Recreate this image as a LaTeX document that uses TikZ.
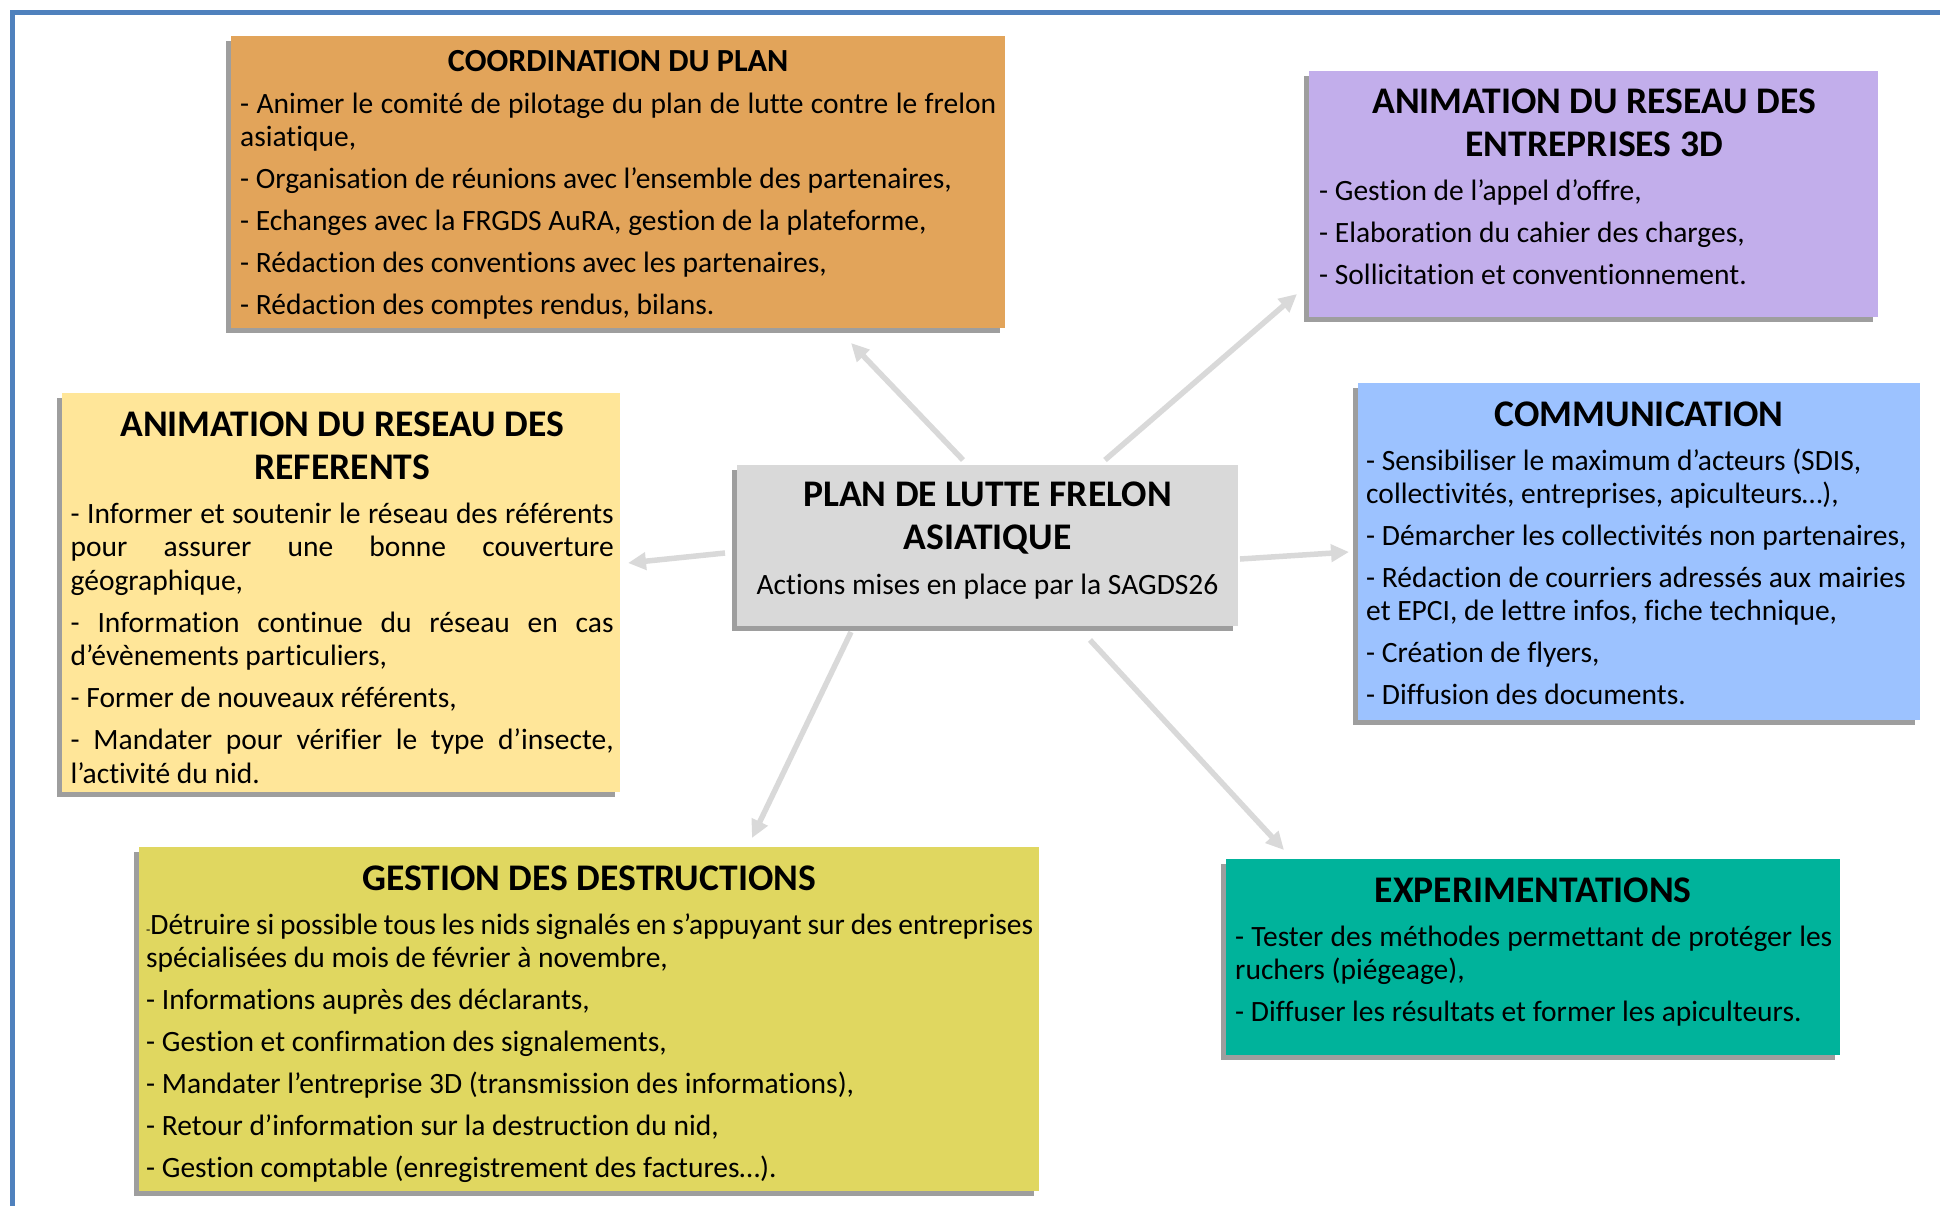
\documentclass[tikz,border=0pt]{standalone}
\usepackage{fontspec}
\setmainfont{Carlito}[Ligatures={NoCommon}]
\usetikzlibrary{calc,shadows,arrows.meta}
\definecolor{framecol}{HTML}{4F81BD}
\definecolor{shadowcol}{HTML}{9E9E9E}
\definecolor{arrowcol}{HTML}{D9D9D9}
\definecolor{coordcol}{HTML}{E2A45A}
\definecolor{entcol}{HTML}{C2AEEB}
\definecolor{commcol}{HTML}{9CC2FF}
\definecolor{refcol}{HTML}{FFE699}
\definecolor{centcol}{HTML}{D9D9D9}
\definecolor{destrcol}{HTML}{E0D760}
\definecolor{expcol}{HTML}{00B39B}
\newcommand\ttlfont{\fontsize{37.6}{43}\selectfont\bfseries}
\newcommand\smttlfont{\fontsize{32.2}{43}\selectfont\bfseries}
\newcommand\bodyfont{\fontsize{29.5}{33.4}\selectfont\mdseries}
\newcommand\jline[2]{\makebox[#1][s]{#2}}
\begin{document}
\begin{tikzpicture}[x=1pt,y=-1pt,
  box/.style={inner sep=0pt, outer sep=0pt, anchor=north west,
    drop shadow={shadow xshift=-5pt, shadow yshift=-5pt, fill=shadowcol, opacity=1}},
  txt/.style={inner sep=0pt, anchor=base west, text width=#1,
    execute at begin node={\raggedright\spaceskip=0pt\xspaceskip=0pt\setlength{\parskip}{8.6pt}}},
  conn/.style={draw=arrowcol, line width=5.5pt, -{Triangle[length=18pt,width=17pt]}}]
\useasboundingbox (0,0) rectangle (1940,1205);
\draw[framecol, line width=5pt] (12,1210) -- (12,12.5) -- (1945,12.5);

% boxes
\node[box, fill=coordcol, minimum width=774pt, minimum height=292pt] (coord) at (231,36) {};
\node[box, fill=entcol, minimum width=569pt, minimum height=246pt] (ent) at (1309,70.5) {};
\node[box, fill=commcol, minimum width=562pt, minimum height=337pt] (comm) at (1358,383) {};
\node[box, fill=refcol, minimum width=558pt, minimum height=399pt] (ref) at (62,393) {};
\node[box, fill=centcol, minimum width=501pt, minimum height=161pt] (c) at (737,465) {};
\node[box, fill=destrcol, minimum width=900pt, minimum height=344pt] (destr) at (139,847) {};
\node[box, fill=expcol, minimum width=614pt, minimum height=196pt] (exper) at (1226,859) {};

% texts
\node[txt=820pt] (coordT) at ($(coord.north west)+(9,35)$) {%
{\smttlfont\makebox[756pt]{COORDINATION DU PLAN}\par}
\bodyfont
\jline{756pt}{- Animer le comité de pilotage du plan de lutte contre le frelon}\\asiatique,\par
- Organisation de réunions avec l’ensemble des partenaires,\par
- Echanges avec la FRGDS AuRA, gestion de la plateforme,\par
- Rédaction des conventions avec les partenaires,\par
- Rédaction des comptes rendus, bilans.\par};

\node[txt=620pt] (entT) at ($(ent.north west)+(10,43)$) {%
{\ttlfont\makebox[550pt]{ANIMATION DU RESEAU DES}\\\makebox[550pt]{ENTREPRISES 3D}\par}
\bodyfont\vspace{2pt}
- Gestion de l’appel d’offre,\par
- Elaboration du cahier des charges,\par
- Sollicitation et conventionnement.\par};

\node[txt=620pt] (commT) at ($(comm.north west)+(8,43.5)$) {%
{\ttlfont\makebox[546pt]{COMMUNICATION}\par}
\bodyfont\vspace{1.5pt}
- Sensibiliser le maximum d’acteurs (SDIS,\\collectivités, entreprises, apiculteurs…),\par
- Démarcher les collectivités non partenaires,\par
- Rédaction de courriers adressés aux mairies\\et EPCI, de lettre infos, fiche technique,\par
- Création de flyers,\par
- Diffusion des documents.\par};

\node[txt=620pt] (refT) at ($(ref.north west)+(8.5,43.5)$) {%
{\ttlfont\makebox[543pt]{ANIMATION DU RESEAU DES}\\\makebox[543pt]{REFERENTS}\par}
\bodyfont\vspace{2pt}
\jline{543pt}{- Informer et soutenir le réseau des référents}\\\jline{543pt}{pour assurer une bonne couverture}\\géographique,\par
\jline{543pt}{- Information continue du réseau en cas}\\d’évènements particuliers,\par
- Former de nouveaux référents,\par
\jline{543pt}{- Mandater pour vérifier le type d’insecte,}\\l’activité du nid.\par};

\node[txt=501pt, anchor=base, execute at begin node={\centering}] (cT) at ($(c.north)+(0,41)$) {%
{\ttlfont PLAN DE LUTTE FRELON\\ASIATIQUE\par}
\bodyfont\vspace{3.6pt}
Actions mises en place par la SAGDS26\par};

\node[txt=940pt] (destrT) at ($(destr.north west)+(7,43)$) {%
{\ttlfont\makebox[886pt]{GESTION DES DESTRUCTIONS}\par}
\bodyfont\vspace{2pt}
\jline{887pt}{{\fontsize{14}{14}\selectfont -}Détruire si possible tous les nids signalés en s’appuyant sur des entreprises}\\spécialisées du mois de février à novembre,\par
- Informations auprès des déclarants,\par
- Gestion et confirmation des signalements,\par
- Mandater l’entreprise 3D (transmission des informations),\par
- Retour d’information sur la destruction du nid,\par
- Gestion comptable (enregistrement des factures…).\par};

\node[txt=660pt] (experT) at ($(exper.north west)+(9,43)$) {%
{\ttlfont\makebox[596pt]{EXPERIMENTATIONS}\par}
\bodyfont\vspace{2pt}
\jline{597pt}{- Tester des méthodes permettant de protéger les}\\ruchers (piégeage),\par
- Diffuser les résultats et former les apiculteurs.\par};

% connectors
\draw[conn] ($(c.north west)+(226,-5)$) -- ($(coord.south west)+(620,15)$);
\draw[conn] ($(c.north west)+(368,-5)$) -- ($(ent.south west)+(-12,-22.5)$);
\draw[conn] ($(c.north west)+(-12,88)$) -- ($(ref.north east)+(8,170)$);
\draw[conn] ($(c.north east)+(2,94)$) -- ($(comm.north west)+(-9,169)$);
\draw[conn] ($(c.south west)+(114,6)$) -- ($(destr.north west)+(613,-9)$);
\draw[conn] ($(c.south west)+(353,14)$) -- ($(exper.north west)+(58,-9)$);
\end{tikzpicture}
\end{document}
